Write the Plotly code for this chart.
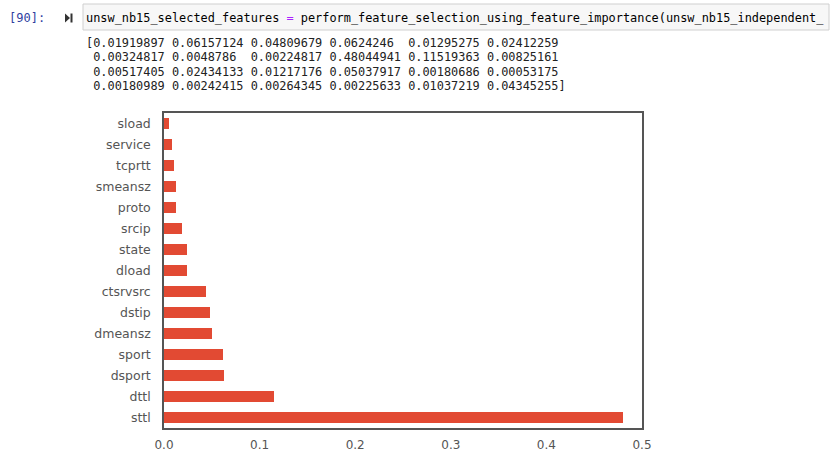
import plotly.graph_objects as go

# ---- data ----
all_importances = [
    0.01919897, 0.06157124, 0.04809679, 0.0624246, 0.01295275, 0.02412259,
    0.00324817, 0.0048786, 0.00224817, 0.48044941, 0.11519363, 0.00825161,
    0.00517405, 0.02434133, 0.01217176, 0.05037917, 0.00180686, 0.00053175,
    0.00180989, 0.00242415, 0.00264345, 0.00225633, 0.01037219, 0.04345255,
]
features = ["sttl", "dttl", "dsport", "sport", "dmeansz", "dstip", "ctsrvsrc",
            "dload", "state", "srcip", "proto", "smeansz", "tcprtt", "service", "sload"]
importance = [0.48044941, 0.11519363, 0.0624246, 0.06157124, 0.05037917, 0.04809679,
              0.04345255, 0.02434133, 0.02412259, 0.01919897, 0.01295275, 0.01217176,
              0.01037219, 0.00825161, 0.00517405]
x_ticks = [0.0, 0.1, 0.2, 0.3, 0.4, 0.5]

W, H = 830, 451
def px(x):
    return x / W
def py(y):
    return 1 - y / H

NB = "\u00a0"

fig = go.Figure()
fig.add_trace(go.Bar(
    x=importance, y=features, orientation="h", width=0.5,
    marker=dict(color="#E24A33", line=dict(width=0)),
))

# plot area in pixels
L, R, T, B = 164, 642, 113, 428
fig.update_layout(
    template="none",
    width=W, height=H,
    margin=dict(l=0, r=0, t=0, b=0, autoexpand=False),
    paper_bgcolor="white", plot_bgcolor="white",
    showlegend=False,
    bargap=0,
    font=dict(family="DejaVu Sans", size=12, color="#555555"),
    xaxis=dict(
        domain=[px(L), px(R)], range=[0, 0.5], tickvals=x_ticks,
        tickformat=".1f", showgrid=False, zeroline=False, automargin=False,
        showline=True, mirror=True, linecolor="#555555", linewidth=1.5,
        ticks="", ticklabelstandoff=5, tickfont=dict(size=12, color="#555555"),
    ),
    yaxis=dict(
        domain=[py(B), py(T)], range=[-0.5, 14.5], type="category",
        categoryorder="array", categoryarray=features,
        showgrid=False, zeroline=False, automargin=False,
        showline=True, mirror=True, linecolor="#555555", linewidth=1.5,
        ticks="", ticklabelstandoff=9, tickfont=dict(size=12.5, color="#555555"),
    ),
)

shapes = []
# input cell box
shapes.append(dict(type="rect", xref="paper", yref="paper",
                   x0=px(83), x1=px(829), y0=py(30), y1=py(4),
                   fillcolor="#f7f7f7", line=dict(color="#cfcfcf", width=1), layer="below"))
# run icon
shapes.append(dict(type="path", xref="paper", yref="paper",
                   path=f"M {px(65)} {py(13.5)} L {px(70)} {py(18)} L {px(65)} {py(22.5)} Z",
                   fillcolor="#333333", line=dict(width=0)))
shapes.append(dict(type="rect", xref="paper", yref="paper",
                   x0=px(70.5), x1=px(72.5), y0=py(22.5), y1=py(13.5),
                   fillcolor="#333333", line=dict(width=0)))
fig.update_layout(shapes=shapes)

mono = "DejaVu Sans Mono"
ann = []
ann.append(dict(xref="paper", yref="paper", x=px(47), y=py(18), xanchor="right", yanchor="middle",
                text="[90]:", showarrow=False, font=dict(family=mono, size=12, color="#303F9F")))
code = ("unsw_nb15_selected_features <span style='color:#AA22FF'>=</span> "
        "perform_feature_selection_using_feature_importance(unsw_nb15_independent_")
ann.append(dict(xref="paper", yref="paper", x=px(84), y=py(18), xanchor="left", yanchor="middle",
                text=code.replace(" ", NB).replace("span" + NB + "style", "span style"),
                showarrow=False, font=dict(family=mono, size=11.9, color="#000000")))

strs = [(f"{v:.8f}".rstrip("0")).ljust(10) for v in all_importances]
lines = []
for i in range(0, len(strs), 6):
    chunk = strs[i:i + 6]
    if i + 6 >= len(strs):
        chunk[-1] = chunk[-1].rstrip() + "]"
    prefix = "[" if i == 0 else " "
    lines.append(prefix + " ".join(chunk))
line_y = [43, 57.5, 72, 86.5]
for t, yy in zip(lines, line_y):
    ann.append(dict(xref="paper", yref="paper", x=px(84), y=py(yy), xanchor="left", yanchor="middle",
                    text=t.replace(" ", NB), showarrow=False,
                    font=dict(family=mono, size=11.9, color="#222222")))
fig.update_layout(annotations=ann)

fig.write_html("out.html", config={"displayModeBar": False},
               post_script="document.body.style.margin='0';")
